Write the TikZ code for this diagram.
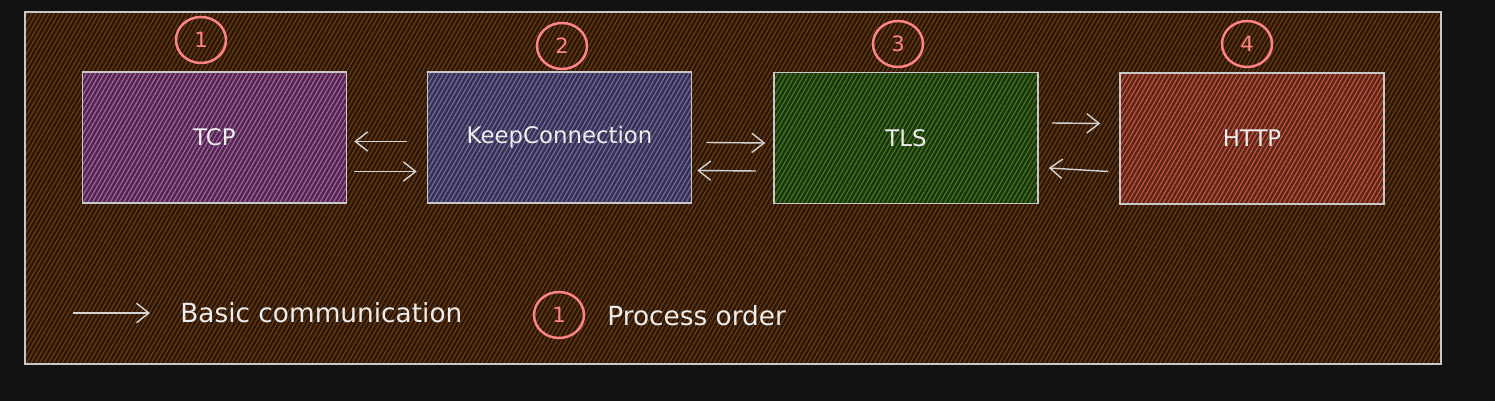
\documentclass[tikz,border=0pt]{standalone}
\usepackage{fontspec}
\setmainfont{DejaVu Sans}
\usetikzlibrary{arrows.meta,calc,patterns.meta,shapes.geometric}

\definecolor{pagebg}{HTML}{121212}
\definecolor{panelfill}{HTML}{2A1709}
\definecolor{panelline}{HTML}{6A3A12}
\definecolor{framegray}{HTML}{C8C8C8}
\definecolor{inkwhite}{HTML}{EDEDED}
\definecolor{ordered}{HTML}{FF8585}
\definecolor{tcpfill}{HTML}{4E2648}
\definecolor{tcpline}{HTML}{A35FA8}
\definecolor{keepfill}{HTML}{35304A}
\definecolor{keepline}{HTML}{6E68A8}
\definecolor{tlsfill}{HTML}{1C300E}
\definecolor{tlsline}{HTML}{3E7A1E}
\definecolor{httpfill}{HTML}{5A2418}
\definecolor{httpline}{HTML}{C2553E}

\begin{document}
\begin{tikzpicture}[x=0.02cm,y=-0.02cm,
layer/.style = {draw=framegray, line width=0.9pt, text=inkwhite,
        minimum width=5.28cm, minimum height=2.62cm,
        font=\fontsize{13}{15}\selectfont},
hatch/.style 2 args = {preaction={fill=#1},
        preaction={pattern={Lines[angle=60,distance=2.2pt,line width=0.7pt]},
        pattern color=#2}},
order/.style = {ellipse, draw=ordered, line width=1.4pt, text=ordered,
        minimum width=1cm, minimum height=0.92cm, inner sep=0pt,
        font=\fontsize{12}{14}\selectfont},
comm/.style = {draw=inkwhite!90!black, line width=0.8pt,
        -{Straight Barb[length=7pt,width=11pt]}},
legend/.style = {text=inkwhite, anchor=west, inner sep=0pt,
        font=\fontsize{15}{18}\selectfont}]

        \fill[pagebg] (0,0) rectangle (1495,401);
        \useasboundingbox (0,0) rectangle (1495,401);
        \draw[draw=framegray, line width=0.8pt, hatch={panelfill}{panelline}]
            (25,12) rectangle (1441,364);

        % protocol layers
        \node[layer, hatch={tcpfill}{tcpline}] (tcp) at (214.5,137.5) {TCP};
        \node[layer, hatch={keepfill}{keepline}] (keep) at (559.5,137.5) {KeepConnection};
        \node[layer, hatch={tlsfill}{tlsline}] (tls) at (906,138) {TLS};
        \node[layer, hatch={httpfill}{httpline}] (http) at (1252,138.5) {HTTP};

        \node[order] (ord1) at (201,40) {1};
        \node[order] (ord2) at (562,46) {2};
        \node[order] (ord3) at (898,44) {3};
        \node[order] (ord4) at (1247,44) {4};

        \draw[comm] ($(keep.west)+(-20,4)$) -- ($(tcp.east)+(7,4)$);
        \draw[comm] ($(tcp.east)+(7,34)$) -- ($(keep.west)+(-10,34)$);
        \draw[comm] ($(keep.east)+(14,5)$) -- ($(tls.west)+(-8,5)$);
        \draw[comm] ($(tls.west)+(-17,33)$) -- ($(keep.east)+(5,33)$);
        \draw[comm] ($(tls.east)+(13,-15)$) -- ($(http.west)+(-19,-15)$);
        \draw[comm] ($(http.west)+(-11,33)$) -- ($(tls.east)+(10,30)$);

        % legend
        \coordinate (legtail) at (73,313);
        \node[legend] (basic) at (180,313) {Basic communication};
        \draw[comm] (legtail) -- ($(basic.west)+(-30,0)$);
        \node[order] (ordkey) at (559,315) {1};
        \node[legend] (process) at (607,316) {Process order};

\end{tikzpicture}
\end{document}
